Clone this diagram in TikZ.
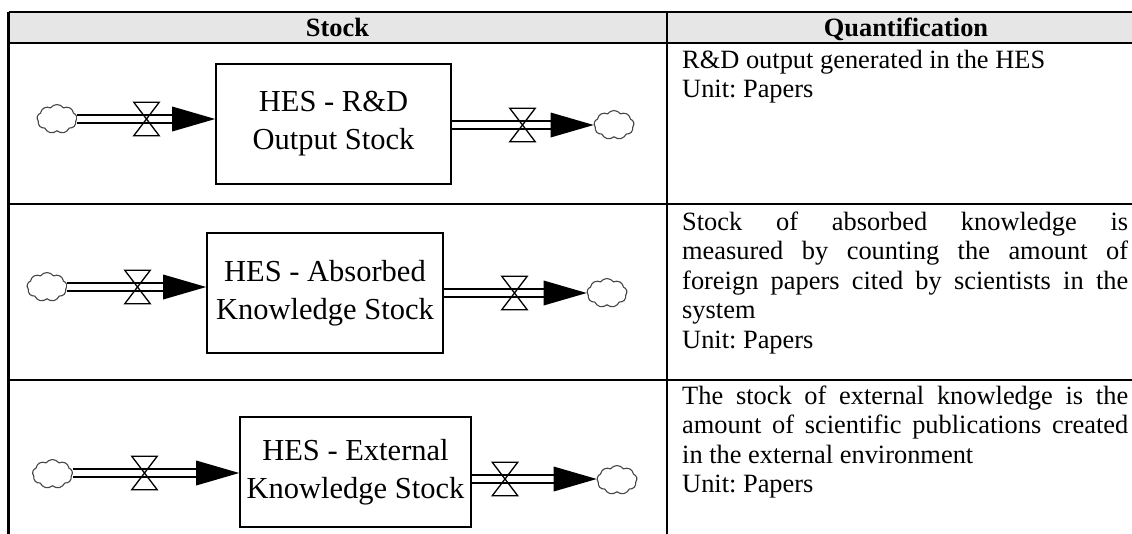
\documentclass[tikz,border=0pt]{standalone}
\usepackage{fontspec}
\setmainfont{Liberation Serif}
\usetikzlibrary{shapes.symbols,calc}
\definecolor{headgray}{RGB}{230,230,230}
\definecolor{cloudline}{RGB}{70,70,70}
\frenchspacing

% pipe from #1 through valve #2 to #3, ending in a solid arrowhead
\newcommand{\flowpipe}[3]{%
  \draw[pipe] (#1.east |- #2) -- ($(#3.west |- #2)+(-41,0)$);
  \draw[valveline] (#2.north west) -- (#2.north east) -- (#2.south west) -- (#2.south east) -- cycle;
  \fill ($(#3.west |- #2)+(-43,-12.5)$) -- (#3.west |- #2) -- ($(#3.west |- #2)+(-43,12.5)$) -- cycle;
}
% a justified line of the description column
\newcommand{\fullline}[1]{{\spaceskip=0.25em plus 1fil\relax\makebox[446pt][s]{#1}}}

\tikzset{
  plainspaces/.style={execute at begin node={\spaceskip=0.25em plus 0.1em minus 0.05em\relax}},
  rule/.style={line width=2.2pt},
  headtext/.style={anchor=base, inner sep=0, font=\fontsize{26.4}{29.5}\selectfont\bfseries},
  qtext/.style={anchor=base west, inner sep=0, text width=446pt, align=left, plainspaces,
                font=\fontsize{26.4}{29.5}\selectfont},
  stockbox/.style={draw, line width=1.6pt, align=center, inner sep=0, plainspaces,
                   font=\fontsize{30.5}{38}\selectfont},
  pipe/.style={line width=1.5pt, double=white, double distance=6.5pt},
  valveline/.style={line width=1.3pt, line join=miter},
  valve/.style={inner sep=0, minimum width=25pt, minimum height=33pt},
  cloudy/.style={cloud, cloud puffs=9, cloud puff arc=110, aspect=1.4,
                 draw=cloudline, line width=1.1pt, fill=white, inner sep=0,
                 minimum width=40pt, minimum height=29pt}
}

\begin{document}
\begin{tikzpicture}[x=1pt,y=-1pt]
\useasboundingbox (0,0) rectangle (1132,533);

% header band
\fill[headgray] (8.5,12) rectangle (1144,43);
\node[headtext] (hstock) at (337.5,36) {Stock};
\node[headtext] (hquant) at (906,36) {Quantification};

% row 1
\node[stockbox, minimum width=235pt, minimum height=120pt] (s1) at (333.5,124) {HES - R\&D\\Output Stock};
\node[cloudy] (c1a) at (57,119) {};
\node[cloudy] (c1b) at (614,125) {};
\node[valve] (v1a) at (146.5,119) {};
\node[valve] (v1b) at (522.5,125) {};
\flowpipe{c1a}{v1a}{s1}
\flowpipe{s1}{v1b}{c1b}
\node[qtext] (q1) at (682,68) {R\&D output generated in the HES\\Unit: Papers};

% row 2
\node[stockbox, minimum width=236pt, minimum height=120pt] (s2) at (325,293) {HES - Absorbed\\Knowledge Stock};
\node[cloudy] (c2a) at (47,287) {};
\node[cloudy] (c2b) at (607,293) {};
\node[valve] (v2a) at (137.5,287) {};
\node[valve] (v2b) at (514.5,293) {};
\flowpipe{c2a}{v2a}{s2}
\flowpipe{s2}{v2b}{c2b}
\node[qtext] (q2) at (682,230) {\fullline{Stock of absorbed knowledge is}\\
\fullline{measured by counting the amount of}\\
\fullline{foreign papers cited by scientists in the}\\
system\\Unit: Papers};

% row 3
\node[stockbox, minimum width=231pt, minimum height=110pt] (s3) at (355.5,472) {HES - External\\Knowledge Stock};
\node[cloudy] (c3a) at (52.5,474) {};
\node[cloudy] (c3b) at (617,480) {};
\node[valve] (v3a) at (144.5,473) {};
\node[valve] (v3b) at (505,479) {};
\flowpipe{c3a}{v3a}{s3}
\flowpipe{s3}{v3b}{c3b}
\node[qtext] (q3) at (682,404) {\fullline{The stock of external knowledge is the}\\
\fullline{amount of scientific publications created}\\
in the external environment\\Unit: Papers};

% table rules
\draw[rule] (8.5,12) -- (1144,12);
\draw[rule] (8.5,43) -- (1144,43);
\draw[rule] (8.5,204) -- (1144,204);
\draw[rule] (8.5,380) -- (1144,380);
\draw[rule] (8.5,12) -- (8.5,545);
\draw[rule] (667,12) -- (667,545);
\draw[rule] (1144,12) -- (1144,545);
\end{tikzpicture}
\end{document}
